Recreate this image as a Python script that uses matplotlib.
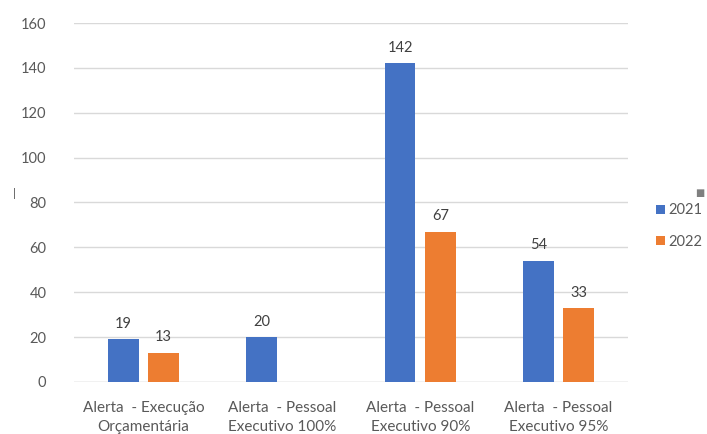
import matplotlib.pyplot as plt
import numpy as np

# Alert counts per category, 2021 vs 2022
categories = ['Alerta  - Execução\nOrçamentária', 'Alerta  - Pessoal\nExecutivo 100%',
              'Alerta  - Pessoal\nExecutivo 90%', 'Alerta  - Pessoal\nExecutivo 95%']
years = ['2021', '2022']
vals_2021 = [19, 20, 142, 54]
vals_2022 = [13, None, 67, 33]
yticks = [0, 20, 40, 60, 80, 100, 120, 140, 160]

colors = ['#4472C4', '#ED7D31']
txt = '#595959'

plt.rcParams['font.family'] = ['Lato', 'DejaVu Sans']

fig = plt.figure(figsize=(7.07, 4.34), dpi=100)
ax = fig.add_axes([0.105, 0.12, 0.783, 0.827])

x = np.arange(len(categories))
w = 0.223
off = 0.146
for i, (vals, c) in enumerate(zip([vals_2021, vals_2022], colors)):
    xs = [xi for xi, v in zip(x, vals) if v is not None]
    vs = [v for v in vals if v is not None]
    pos = np.array(xs) + (off if i else -off)
    bars = ax.bar(pos, vs, w, color=c, label=years[i], zorder=3)
    for b, v in zip(bars, vs):
        ax.annotate(str(v), (b.get_x() + b.get_width() / 2, v), xytext=(0, 6),
                    textcoords='offset points', ha='center', va='bottom',
                    fontsize=10.5, color='#404040')

ax.set_xlim(-0.5, 3.5)
ax.set_ylim(0, 160)
ax.set_yticks(yticks)
ax.set_xticks(x)
ax.set_xticklabels(categories, fontsize=11, color=txt, linespacing=1.45)
ax.tick_params(axis='y', labelsize=10.5, labelcolor=txt, length=0, pad=20)
ax.tick_params(axis='x', length=0, pad=14)
ax.grid(axis='y', color='#D9D9D9', linewidth=1, zorder=0)
for s in ax.spines.values():
    s.set_visible(False)
ax.axhline(0, color='#D9D9D9', linewidth=1, zorder=1)

# legend on the right, partially cut off
fig.legend(loc='upper left', bbox_to_anchor=(0.92, 0.545), frameon=False,
           fontsize=10.5, labelcolor=txt, handlelength=0.6, handleheight=0.6,
           handletextpad=0.2, labelspacing=1.2, borderaxespad=0)

# small stray marks in the screenshot
fig.text(0.02, 0.555, '|', fontsize=8, color='#404040', ha='center', va='center')
fig.text(0.99, 0.555, '■', fontsize=7, color='#7F7F7F', ha='center', va='center')

plt.savefig('out.png', dpi=100)
plt.close()
